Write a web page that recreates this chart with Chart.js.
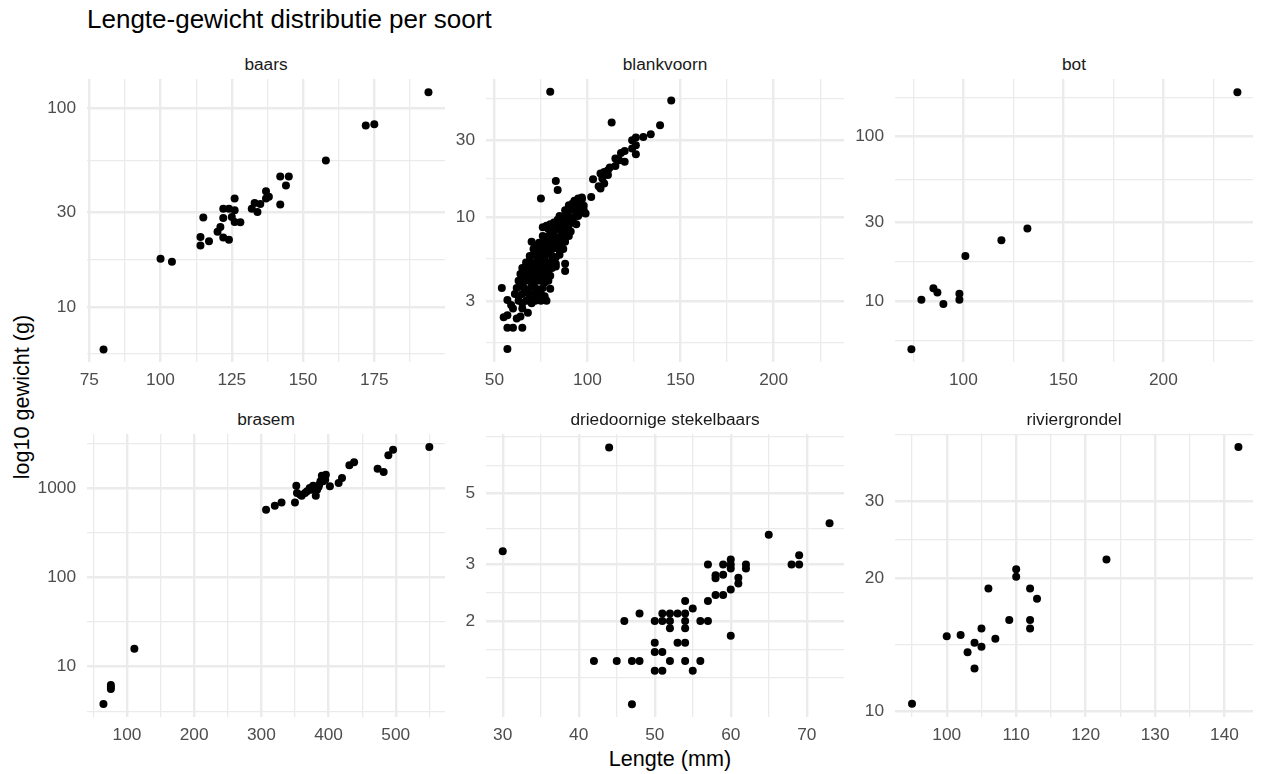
<!DOCTYPE html>
<html>
<head>
<meta charset="utf-8">
<script src="https://cdn.jsdelivr.net/npm/chart.js@4.4.1/dist/chart.umd.min.js"></script>
<style>
  html, body { margin: 0; padding: 0; background: #ffffff; }
  body { width: 1261px; height: 774px; overflow: hidden; position: relative;
         font-family: "Liberation Sans", Arial, sans-serif; }
  .txt { position: absolute; white-space: nowrap; }
  canvas { position: absolute; }
</style>
</head>
<body>
<div class="txt" id="title" style="left:87px;top:4px;font-size:26px;line-height:30px;color:#000;">Lengte-gewicht distributie per soort</div>
<div class="txt" id="xtitle" style="left:87px;width:1166px;text-align:center;top:746px;font-size:21.6px;line-height:26px;color:#000;">Lengte (mm)</div>
<div class="txt" id="ytitle" style="left:-178px;width:400px;text-align:center;top:384px;font-size:21.6px;line-height:26px;color:#000;transform:rotate(-90deg);transform-origin:50% 50%;">log10 gewicht (g)</div>
<script>
// ---------------- DATA ----------------
const species = ['baars', 'blankvoorn', 'bot', 'brasem', 'driedoornige stekelbaars', 'riviergrondel'];

const baarsLength = [80,100,104,114,114,115,117,120,121,122,122,122,124,124,125,126,126,126,128,132,133,134,135,137,137,138,142,142,145,144,158,172,175,194];
const baarsWeight = [6.1,17.5,16.9,22.5,20.4,28.2,21.4,23.9,25.3,31.2,28.1,22.4,21.8,31.2,28.4,35.2,30.7,26.8,26.7,31.2,33.4,30.1,33.0,38.3,35.2,35.9,32.8,45.4,45.4,40.9,54.7,82.1,83.4,121];

const blankvoornLength = [
  80,145,113,139,134,130,126,124,126,124,
  126,120,118,117,120,115,115,112,111,109,
  107,111,108,103,109,106,107,102,97,95,
  98,83,84,75,99,88,88,80,70,76,
  54,57,59,55,57,62,64,68,65,60,
  57,60,65,57,72,75,78,
  93,95,97,
  90,92,94,96,98,
  88,90,92,94,96,98,
  85,87,89,91,93,95,
  78,80,82,84,86,88,90,92,94,
  79,81,83,85,87,89,91,
  76,78,80,82,84,86,88,90,
  74,76,78,80,82,84,86,88,
  71,73,75,77,79,81,83,85,87,
  69,71,73,75,77,79,81,83,85,
  67,69,71,73,75,77,79,81,83,
  65,67,69,71,73,75,77,79,81,83,
  64,66,68,70,72,74,76,78,80,
  63,65,67,69,71,73,75,77,79,
  62,64,66,68,70,72,74,76,
  61,63,65,67,69,71,73,75,77,
  63,65,67,69,70,
  84,86,88,90,92,
  72,74,76,78,80,82,84,
  66,68,70,72,74,76,78
];
const blankvoornWeight = [
  60,53,38.6,37.2,32.6,31.4,31.2,30.0,27.9,26.6,
  24.5,25.7,25.0,22.5,22.0,23.1,20.7,20.3,19.5,19.0,
  18.6,18.2,17.3,17.1,16.1,15.5,15.0,13.3,13.2,12.4,
  10.6,16.7,14.7,13.0,10.5,5.1,4.6,3.56,7.0,8.6,
  3.6,3.03,2.82,2.37,2.44,2.33,2.39,2.53,2.69,2.69,
  2.04,2.04,2.04,1.5,3.0,3.0,3.0,
  12.6,13.0,12.8,
  11.8,12.1,11.9,12.2,11.7,
  11.0,10.9,11.2,10.8,11.1,11.0,
  10.1,9.9,10.2,9.8,10.0,10.1,
  8.8,9.0,9.2,9.0,9.3,9.1,8.9,9.2,9.0,
  8.4,8.2,8.3,8.5,8.2,8.4,8.1,
  7.6,7.5,7.7,7.6,7.4,7.7,7.5,7.6,
  6.9,7.0,6.8,6.9,7.1,6.8,6.9,7.0,
  6.3,6.2,6.4,6.3,6.1,6.3,6.4,6.2,6.3,
  5.7,5.8,5.6,5.8,5.7,5.9,5.7,5.6,5.8,
  5.2,5.3,5.1,5.3,5.2,5.4,5.2,5.3,5.1,
  4.8,4.7,4.9,4.8,4.7,4.9,4.8,4.7,4.8,4.9,
  4.4,4.3,4.4,4.3,4.4,4.3,4.4,4.2,4.3,
  4.0,3.9,4.0,4.1,3.9,4.0,4.0,3.9,4.0,
  3.6,3.7,3.6,3.5,3.7,3.6,3.5,3.6,
  3.3,3.2,3.3,3.4,3.2,3.3,3.2,3.3,3.2,
  3.0,2.9,3.0,3.0,2.9,
  9.6,9.5,9.7,9.5,9.6,
  6.6,6.6,6.7,6.5,6.6,6.7,6.5,
  4.6,4.5,4.6,4.6,4.5,4.6,4.5
];

const botLength = [74,79,85,87,90,98,98,101,119,132,237];
const botWeight = [5.1,10.2,12.0,11.3,9.6,11.1,10.2,18.8,23.5,27.7,186];

const brasemLength = [65,76,76,76,111,307,320,330,350,352,353,358,360,365,368,372,375,377,380,381,383,385,386,388,390,392,395,396,402,415,420,431,438,473,482,489,496,550];
const brasemWeight = [3.8,6.2,5.9,5.6,15.8,571,634,690,690,1062,880,841,820,879,918,1000,958,1062,963,820,958,1026,1090,1188,1374,1188,1240,1411,1044,1137,1295,1795,1941,1648,1510,2323,2692,2884];

const stekelbaarsLength = [30,44,42,45,46,47,48,48,47,50, 51,51,52,53,54,52,52,54,54,54, 55,56,57,57,50,50,51,53,54,52, 54,56,50,51,55,58,59,60,60,61, 61,58,58,59,57,59,60,60,60,62, 62,65,68,69,69,73];
const stekelbaarsWeight = [3.3,6.96,1.5,1.5,2.0,1.5,1.5,2.11,1.1,2.0, 2.0,2.11,2.11,2.11,2.11,2.0,1.9,2.0,1.9,2.31, 2.19,2.0,2.0,2.31,1.71,1.6,1.6,1.71,1.71,1.5, 1.5,1.5,1.4,1.4,1.4,2.41,2.41,2.51,1.8,2.62, 2.73,2.78,2.72,2.79,3.0,3.0,3.11,3.0,2.92,3.0, 2.92,3.72,3.0,3.0,3.21,4.04];

const grondelLength = [95,100,102,103,104,104,105,105,106,107,109,110,110,112,112,112,113,123,142];
const grondelWeight = [10.4,14.8,14.9,13.6,14.3,12.5,15.4,14.0,19.0,14.6,16.1,21.0,20.2,19.0,16.1,15.4,18.0,22.1,39.8];

// tick labels (major breaks) per panel
const baarsXTicks = [75,100,125,150,175];        const baarsYTicks = [10,30,100];
const blankvoornXTicks = [50,100,150,200];       const blankvoornYTicks = [3,10,30];
const botXTicks = [100,150,200];                 const botYTicks = [10,30,100];
const brasemXTicks = [100,200,300,400,500];      const brasemYTicks = [10,100,1000];
const stekelbaarsXTicks = [30,40,50,60,70];      const stekelbaarsYTicks = [2,3,5];
const grondelXTicks = [100,110,120,130,140];     const grondelYTicks = [10,20,30];

// axis ranges per panel
const baarsXRange = [74.2,199.8];        const baarsYRange = [5.27,141];
const blankvoornXRange = [45.5,237.8];   const blankvoornYRange = [1.247,72.1];
const botXRange = [65.8,244.8];          const botYRange = [4.27,224];
const brasemXRange = [40.5,573.3];       const brasemYRange = [2.72,4030];
const stekelbaarsXRange = [27.8,74.9];   const stekelbaarsYRange = [1.0035,7.67];
const grondelXRange = [92.55,144.1];     const grondelYRange = [9.70,42.6];

// ---------------- LAYOUT ----------------
const FONT = '"Liberation Sans", Arial, sans-serif';
const PW = 358, PH = 283;
const panelPos = [[87,79],[486,79],[895,79],[87,434],[486,434],[895,434]];

const panels = [
  {x: baarsLength, y: baarsWeight, xt: baarsXTicks, yt: baarsYTicks, xr: baarsXRange, yr: baarsYRange},
  {x: blankvoornLength, y: blankvoornWeight, xt: blankvoornXTicks, yt: blankvoornYTicks, xr: blankvoornXRange, yr: blankvoornYRange},
  {x: botLength, y: botWeight, xt: botXTicks, yt: botYTicks, xr: botXRange, yr: botYRange},
  {x: brasemLength, y: brasemWeight, xt: brasemXTicks, yt: brasemYTicks, xr: brasemXRange, yr: brasemYRange},
  {x: stekelbaarsLength, y: stekelbaarsWeight, xt: stekelbaarsXTicks, yt: stekelbaarsYTicks, xr: stekelbaarsXRange, yr: stekelbaarsYRange},
  {x: grondelLength, y: grondelWeight, xt: grondelXTicks, yt: grondelYTicks, xr: grondelXRange, yr: grondelYRange}
];

// ggplot-style regular minor breaks (n = 2), in transformed space
function gridBreaks(b, lo, hi) {
  const inr = b.filter(v => v >= lo - 1e-9 && v <= hi + 1e-9);
  const e = inr.slice();
  const bd = e[1] - e[0];
  if (lo < e[0]) e.unshift(e[0] - bd);
  if (hi > e[e.length - 1]) e.push(e[e.length - 1] + bd);
  const out = [];
  for (let i = 0; i < e.length - 1; i++) { out.push(e[i], (e[i] + e[i + 1]) / 2); }
  out.push(e[e.length - 1]);
  return out.filter(v => v >= lo && v <= hi);
}
function isMajor(v, list) {
  return list.some(b => Math.abs(v - b) <= 1e-6 * Math.max(1, Math.abs(b)));
}

const ML = 60, MT = 6, MR = 6, MB = 44;

panels.forEach((p, i) => {
  const [pl, pt] = panelPos[i];

  const strip = document.createElement('div');
  strip.className = 'txt';
  strip.textContent = species[i];
  strip.style.cssText = `left:${pl}px;width:${PW}px;text-align:center;top:${pt - 25.5}px;font-size:17.3px;line-height:20px;color:#1A1A1A;`;
  document.body.appendChild(strip);

  const cv = document.createElement('canvas');
  cv.width = PW + ML + MR; cv.height = PH + MT + MB;
  cv.style.left = (pl - ML) + 'px'; cv.style.top = (pt - MT) + 'px';
  cv.style.width = cv.width + 'px'; cv.style.height = cv.height + 'px';
  document.body.appendChild(cv);

  const xGrid = gridBreaks(p.xt, p.xr[0], p.xr[1]);
  const yGrid = gridBreaks(p.yt.map(Math.log10), Math.log10(p.yr[0]), Math.log10(p.yr[1])).map(v => Math.pow(10, v));

  new Chart(cv, {
    type: 'scatter',
    data: { datasets: [{
      data: p.x.map((v, k) => ({x: v, y: p.y[k]})),
      pointRadius: 4, pointHoverRadius: 4,
      backgroundColor: '#000000', borderColor: '#000000', borderWidth: 0
    }]},
    options: {
      responsive: false, animation: false, devicePixelRatio: 1, events: [],
      layout: { autoPadding: false, padding: {top: MT, right: MR, left: 0, bottom: 0} },
      plugins: { legend: {display: false}, tooltip: {enabled: false}, title: {display: false} },
      scales: {
        x: {
          type: 'linear', min: p.xr[0], max: p.xr[1],
          afterBuildTicks: s => { s.ticks = xGrid.map(v => ({value: v})); },
          afterFit: s => { s.height = MB; s.paddingLeft = 0; s.paddingRight = 0; },
          grid: { color: '#EBEBEB', drawTicks: false,
                  lineWidth: c => (c.tick && isMajor(c.tick.value, p.xt)) ? 2.4 : 1.3 },
          border: { display: false },
          ticks: { autoSkip: false, maxRotation: 0, minRotation: 0, padding: 8, color: '#4D4D4D',
                   font: {family: FONT, size: 17.3},
                   callback: v => isMajor(v, p.xt) ? String(v) : '' }
        },
        y: {
          type: 'logarithmic', min: p.yr[0], max: p.yr[1],
          afterBuildTicks: s => { s.ticks = yGrid.map(v => ({value: v})); },
          afterFit: s => { s.width = ML; s.paddingTop = 0; s.paddingBottom = 0; },
          grid: { color: '#EBEBEB', drawTicks: false,
                  lineWidth: c => (c.tick && isMajor(c.tick.value, p.yt)) ? 2.4 : 1.3 },
          border: { display: false },
          ticks: { autoSkip: false, padding: 11, color: '#4D4D4D',
                   font: {family: FONT, size: 17.3},
                   callback: v => { const m = p.yt.find(b => Math.abs(v - b) <= 1e-6 * b); return m !== undefined ? String(m) : ''; } }
        }
      }
    }
  });
});
</script>
</body>
</html>
